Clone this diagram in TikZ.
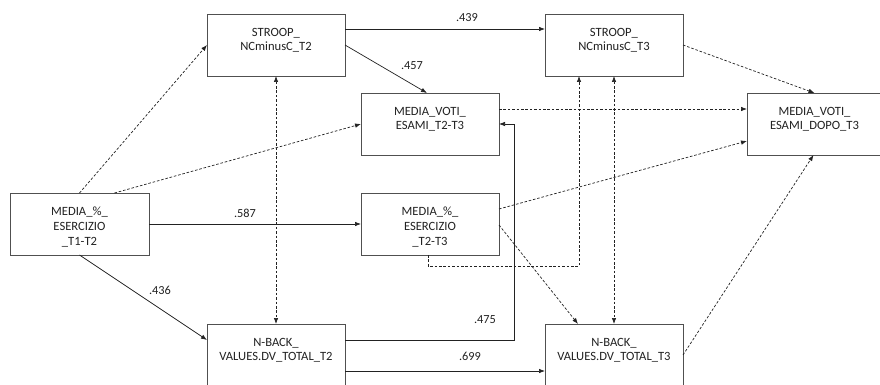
\documentclass[tikz,border=0pt]{standalone}
\usepackage{fontspec}
\setmainfont{Carlito}
\usetikzlibrary{arrows.meta,calc}
\definecolor{ink}{HTML}{222222}
\definecolor{edge}{HTML}{505050}
\tikzset{
  box/.style={draw=edge, line width=0.9pt, minimum width=138pt, minimum height=62pt, inner sep=0pt, outer sep=0pt},
  con/.style={draw=ink, line width=0.7pt, -{Latex[length=6pt,width=4.5pt]}},
  dcon/.style={con, dash pattern=on 2.6pt off 1.8pt},
  bcon/.style={dcon, {Latex[length=6pt,width=4.5pt]}-{Latex[length=6pt,width=4.5pt]}},
  wt/.style={text=ink, font=\fontsize{12.3}{14}\selectfont, inner sep=0pt}
}
\newcommand{\boxtext}[1]{\parbox[c][60pt][t]{134pt}{\centering\fontsize{12.6}{14.8}\selectfont\color{ink}\vspace*{13pt}#1}}
\begin{document}
\begin{tikzpicture}[x=1pt,y=-1pt]
\useasboundingbox (0,0) rectangle (880,385);
\clip (0,0) rectangle (880,385);
\fill[white] (0,0) rectangle (880,385);
\node[box] (s2) at (276,45) {\boxtext{STROOP\_\\NCminusC\_T2}};
\node[box] (s3) at (614,45) {\boxtext{STROOP\_\\NCminusC\_T3}};
\node[box] (v23) at (430,124) {\boxtext{MEDIA\_VOTI\_\\ESAMI\_T2-T3}};
\node[box, minimum width=135pt] (vd) at (814.5,124) {\boxtext{MEDIA\_VOTI\_\\ESAMI\_DOPO\_T3}};
\node[box, minimum width=139pt] (e12) at (79.5,224) {\boxtext{MEDIA\_\%\_\\ESERCIZIO\\\_T1-T2}};
\node[box] (e23) at (430,224) {\boxtext{MEDIA\_\%\_\\ESERCIZIO\\\_T2-T3}};
\node[box] (n2) at (276,355) {\boxtext{N-BACK\_\\VALUES.DV\_TOTAL\_T2}};
\node[box] (n3) at (614,355) {\boxtext{N-BACK\_\\VALUES.DV\_TOTAL\_T3}};
% solid paths
\draw[con] ([yshift=16pt]s2.east) -- ([yshift=16pt]s3.west);
\draw[con] (s2.east) -- ([xshift=-3pt]v23.north);
\draw[con] (e12.east) -- (e23.west);
\draw[con] (e12.south) -- ([yshift=15pt]n2.west);
\draw[con] ([yshift=15pt]n2.east) -| ([xshift=15pt]v23.east) -- (v23.east);
\draw[con] ([yshift=-16pt]n2.east) -- ([yshift=-16pt]n3.west);
% dashed paths
\draw[dcon] (e12.north) -- (s2.west);
\draw[dcon] ([xshift=35pt]e12.north) -- (v23.west);
\draw[bcon] (s2.south) -- (n2.north);
\draw[dcon] ([xshift=-2pt]e23.south) -- ++(0,11) -| ([xshift=-35pt]s3.south);
\draw[bcon] (s3.south) -- (n3.north);
\draw[dcon] ([yshift=15pt]v23.east) -- ([yshift=15pt]vd.west);
\draw[dcon] (s3.east) -- (vd.north);
\draw[dcon] ([yshift=15pt]e23.east) -- ([yshift=-17pt]vd.west);
\draw[dcon] ([yshift=-1pt]e23.east) -- ([xshift=-36pt]n3.north);
\draw[dcon] (n3.east) -- ([xshift=-1pt]vd.south);
% weights
\node[wt] (w439) at (467,18) {.439};
\node[wt] (w457) at (412,66) {.457};
\node[wt] (w587) at (245,213) {.587};
\node[wt] (w436) at (160,290) {.436};
\node[wt] (w475) at (485,320) {.475};
\node[wt] (w699) at (470,356) {.699};
\end{tikzpicture}
\end{document}
